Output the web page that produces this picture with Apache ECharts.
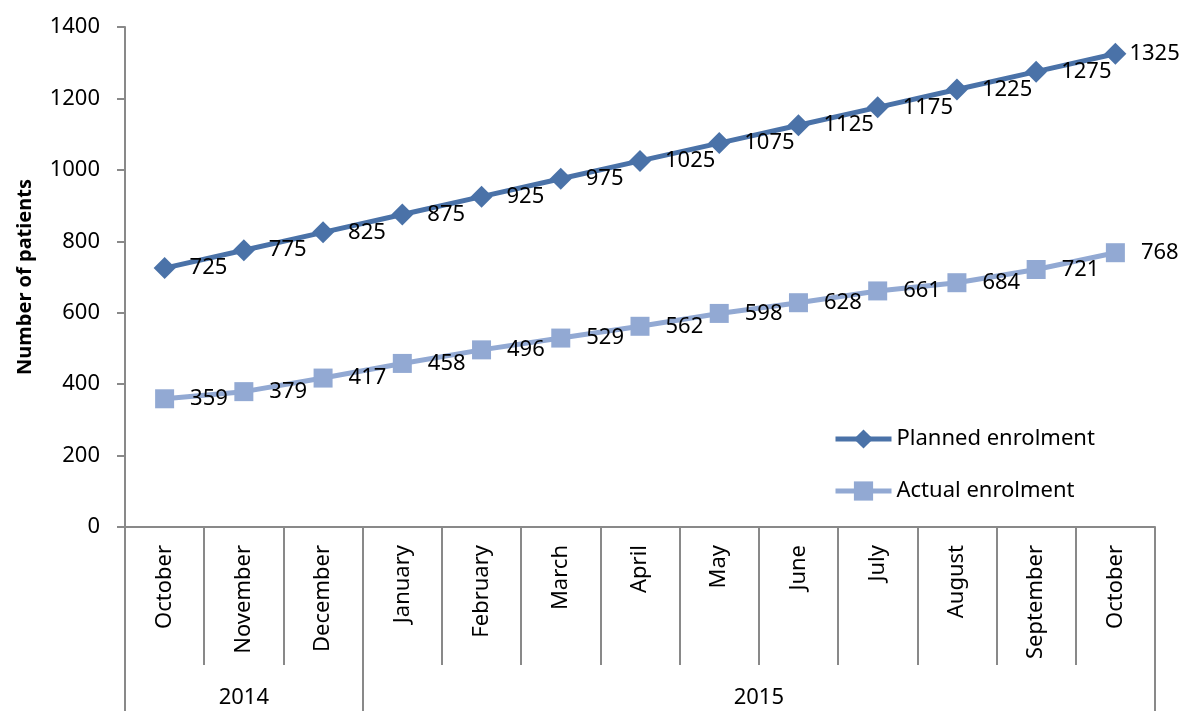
<!DOCTYPE html>
<html lang="en">
<head>
    <meta charset="UTF-8">
    <title>Enrolment</title>
    <script type="text/javascript" src="https://cdn.jsdelivr.net/npm/echarts@6/dist/echarts.min.js"></script>
    <style>
        html, body { margin: 0; padding: 0; background: #fff; }
        #ec { width: 1180px; height: 711px; }
    </style>
</head>
<body>
<div id="ec"></div>
<script>
    var months = ['October', 'November', 'December', 'January', 'February', 'March', 'April',
        'May', 'June', 'July', 'August', 'September', 'October'];
    var years = ['2014', '2015'];
    var yearSpans = [3, 10];
    var planned = [725, 775, 825, 875, 925, 975, 1025, 1075, 1125, 1175, 1225, 1275, 1325];
    var actual = [359, 379, 417, 458, 496, 529, 562, 598, 628, 661, 684, 721, 768];

    // year row: half-month steps so group centres and borders land on points
    var halfSteps = [];
    for (var i = 0; i <= months.length * 2; i++) halfSteps.push('');
    var yearTicks = {};
    var start = 0;
    for (var k = 0; k < years.length; k++) {
        yearTicks[start * 2] = true;
        halfSteps[start * 2 + yearSpans[k]] = years[k];
        start += yearSpans[k];
    }
    yearTicks[start * 2] = true;

    var font = 'Noto Sans';
    var grey = '#898989';
    var fs = 22;
    var myChart = echarts.init(document.getElementById('ec'));
    myChart.setOption({
        animation: false,
        textStyle: {fontFamily: font},
        grid: {left: 125, right: 25, top: 27, bottom: 184},
        legend: {
            orient: 'vertical',
            left: 828,
            top: 423,
            itemWidth: 56,
            itemHeight: 24,
            itemGap: 30,
            lineStyle: {width: 5},
            textStyle: {fontSize: fs, color: '#000', fontFamily: font},
            data: ['Planned enrolment', 'Actual enrolment']
        },
        xAxis: [
            {
                type: 'category',
                data: months,
                boundaryGap: true,
                axisLine: {lineStyle: {color: grey, width: 2}},
                axisTick: {show: true, interval: 0, length: 138, lineStyle: {color: grey, width: 2}},
                axisLabel: {interval: 0, rotate: 90, margin: 18, fontSize: fs, color: '#000', fontFamily: font}
            },
            {
                type: 'category',
                position: 'bottom',
                offset: 138,
                data: halfSteps,
                boundaryGap: false,
                axisLine: {show: false},
                axisTick: {
                    show: true,
                    interval: function (idx) { return !!yearTicks[idx]; },
                    length: 50, lineStyle: {color: grey, width: 2}
                },
                axisLabel: {
                    interval: function (idx, val) { return val !== ''; },
                    margin: 22, fontSize: fs, color: '#000', fontFamily: font
                }
            }
        ],
        yAxis: {
            type: 'value',
            min: 0,
            max: 1400,
            interval: 200,
            name: 'Number of patients',
            nameLocation: 'middle',
            nameGap: 90,
            nameTextStyle: {fontSize: 20, fontWeight: 'bold', color: '#000', fontFamily: font},
            splitLine: {show: false},
            axisLine: {show: true, lineStyle: {color: grey, width: 2}},
            axisTick: {show: true, length: 8, lineStyle: {color: grey, width: 2}},
            axisLabel: {
                fontSize: fs, color: '#000', margin: 25, fontFamily: font,
                formatter: function (v) { return String(v); }
            }
        },
        series: [
            {
                name: 'Planned enrolment',
                type: 'line',
                data: planned.map(function (v, i) {
                    return i === planned.length - 1 ? {value: v, label: {distance: 3}} : v;
                }),
                symbol: 'diamond',
                symbolSize: 22,
                lineStyle: {width: 5, color: '#4A72A8'},
                itemStyle: {color: '#4A72A8'},
                label: {show: true, position: 'right', distance: 14, fontSize: fs, color: '#000', fontFamily: font}
            },
            {
                name: 'Actual enrolment',
                type: 'line',
                data: actual,
                symbol: 'rect',
                symbolSize: 19,
                lineStyle: {width: 5, color: '#92A9D3'},
                itemStyle: {color: '#92A9D3'},
                label: {show: true, position: 'right', distance: 16, fontSize: fs, color: '#000', fontFamily: font}
            }
        ]
    });
</script>
</body>
</html>
